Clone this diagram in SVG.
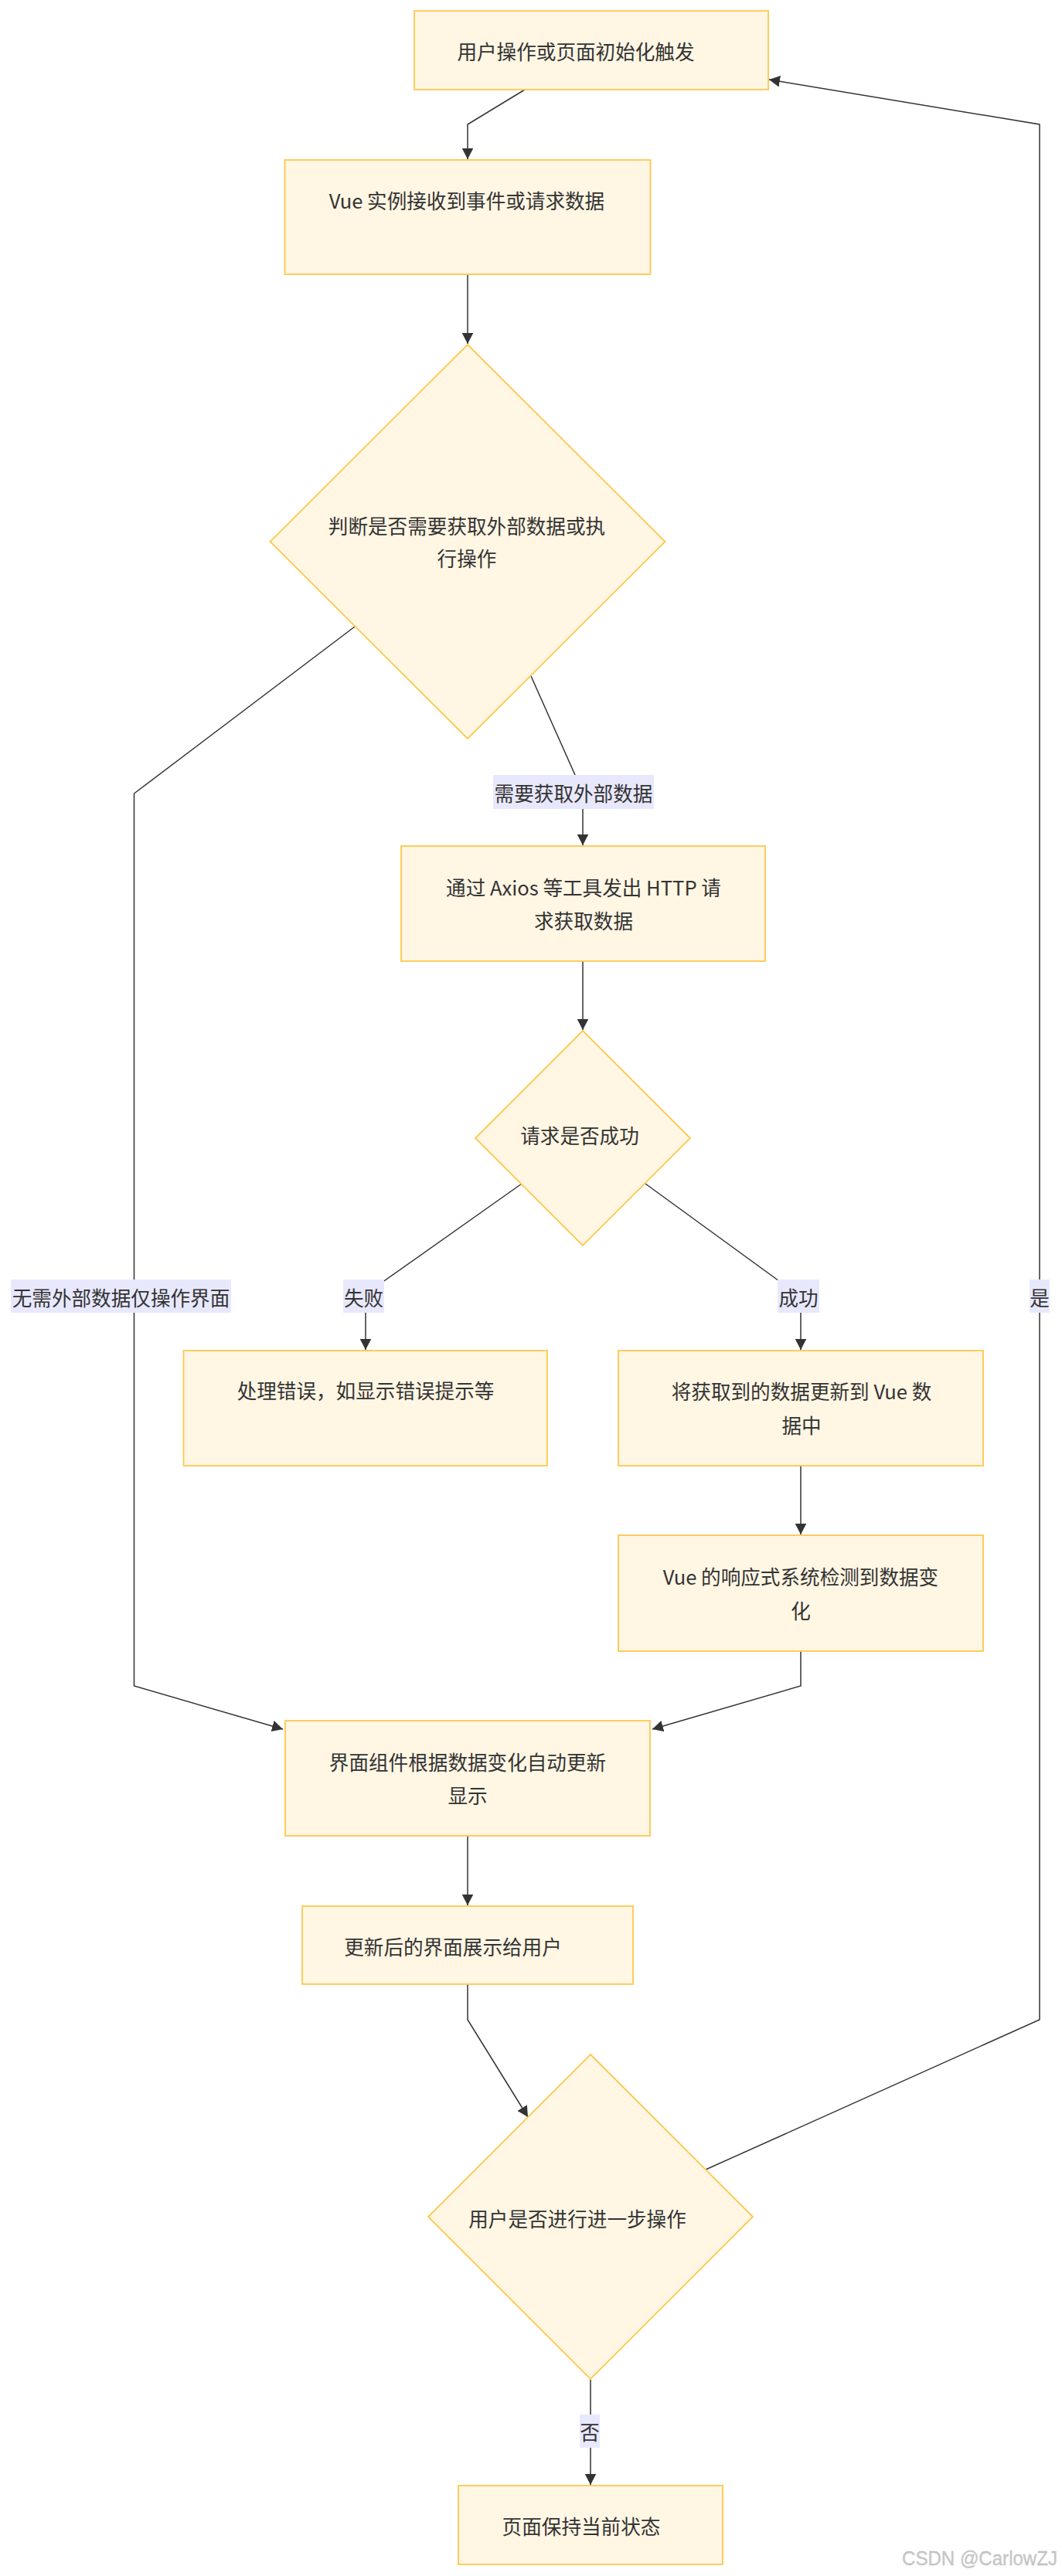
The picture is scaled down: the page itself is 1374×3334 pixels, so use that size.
<svg xmlns="http://www.w3.org/2000/svg" width="1374" height="3334" viewBox="0 0 1374 3334">
<style>
.node{fill:#fff6e3;stroke:#fdc84e;stroke-width:1.8}
.t{font-family:"Noto Sans CJK SC","Noto Sans",sans-serif;font-size:25.6px;fill:#333;text-anchor:middle;dominant-baseline:central}
.edge{fill:none;stroke:#333;stroke-width:1.5}
.lbl{fill:#e8e8fd}
.wm{font-family:"Liberation Sans",sans-serif;font-size:25px;fill:#c9c9c9;stroke:#b4b4b4;stroke-width:0.3}
</style>
<defs>
<marker id="arr" markerUnits="userSpaceOnUse" markerWidth="16" markerHeight="16" refX="14" refY="7.3" orient="auto">
<path d="M0,0 L14,7.3 L0,14.6 z" fill="#333"/>
</marker>
</defs>
<rect width="1374" height="3334" fill="#fff"/>

<g id="connectors">
<path class="edge" d="M679,116 L605,161 L605,206" marker-end="url(#arr)"/>
<path class="edge" d="M605,355 L605,445" marker-end="url(#arr)"/>
<path class="edge" d="M459,811 L173.5,1027 L173.5,2182 L366,2238" marker-end="url(#arr)"/>
<path class="edge" d="M687,875 L744,1003 L754,1030 L754,1094" marker-end="url(#arr)"/>
<path class="edge" d="M754,1244 L754,1333" marker-end="url(#arr)"/>
<path class="edge" d="M675,1532 L494,1660 L473,1690 L473,1747" marker-end="url(#arr)"/>
<path class="edge" d="M835,1532 L1008,1658 L1036,1690 L1036,1747" marker-end="url(#arr)"/>
<path class="edge" d="M1036,1897 L1036,1986" marker-end="url(#arr)"/>
<path class="edge" d="M1036,2137 L1036,2182 L844,2238" marker-end="url(#arr)"/>
<path class="edge" d="M605,2376 L605,2466" marker-end="url(#arr)"/>
<path class="edge" d="M605,2568 L605,2614 L683,2740" marker-end="url(#arr)"/>
<path class="edge" d="M913,2808 L1345,2614 L1345,161 L995,103" marker-end="url(#arr)"/>
<path class="edge" d="M764,3080 L764,3216" marker-end="url(#arr)"/>
</g>

<g id="edge-labels">
<g id="lbl-need"><rect class="lbl" x="638" y="1003" width="208" height="44"/><text class="t" x="742" y="1025">需要获取外部数据</text></g>
<g id="lbl-noneed"><rect class="lbl" x="14" y="1656" width="285" height="43"/><text class="t" x="156.5" y="1678">无需外部数据仅操作界面</text></g>
<g id="lbl-fail"><rect class="lbl" x="444" y="1656" width="53" height="43"/><text class="t" x="470.5" y="1678">失败</text></g>
<g id="lbl-ok"><rect class="lbl" x="1006" y="1656" width="54" height="43"/><text class="t" x="1033" y="1678">成功</text></g>
<g id="lbl-yes"><rect class="lbl" x="1332" y="1656" width="26" height="43"/><text class="t" x="1345" y="1678">是</text></g>
<g id="lbl-no"><rect class="lbl" x="750" y="3125" width="26" height="43"/><text class="t" x="763" y="3146.5">否</text></g>
</g>

<g id="nodeA"><rect class="node" x="536" y="14" width="458" height="102"/><text class="t" x="745" y="65">用户操作或页面初始化触发</text></g>
<g id="nodeB"><rect class="node" x="368.5" y="207" width="473" height="148"/><text class="t" x="604" y="258">Vue 实例接收到事件或请求数据</text></g>
<g id="nodeD1"><polygon class="node" points="605,446 860.5,701 605,956 349.5,701"/><text class="t" x="604" y="679">判断是否需要获取外部数据或执</text><text class="t" x="604" y="721.5">行操作</text></g>
<g id="nodeC"><rect class="node" x="519" y="1095" width="471" height="149"/><text class="t" x="755" y="1147">通过 Axios 等工具发出 HTTP 请</text><text class="t" x="755" y="1190">求获取数据</text></g>
<g id="nodeD2"><polygon class="node" points="754,1334 893,1473 754,1612 615,1473"/><text class="t" x="750" y="1468">请求是否成功</text></g>
<g id="nodeE"><rect class="node" x="237.5" y="1748" width="470.5" height="149"/><text class="t" x="473" y="1798">处理错误，如显示错误提示等</text></g>
<g id="nodeF"><rect class="node" x="800" y="1748" width="472" height="149"/><text class="t" x="1037" y="1799">将获取到的数据更新到 Vue 数</text><text class="t" x="1037" y="1843">据中</text></g>
<g id="nodeG"><rect class="node" x="800" y="1987" width="472" height="150"/><text class="t" x="1036" y="2039">Vue 的响应式系统检测到数据变</text><text class="t" x="1036" y="2083">化</text></g>
<g id="nodeH"><rect class="node" x="369" y="2227" width="472" height="149"/><text class="t" x="605" y="2279">界面组件根据数据变化自动更新</text><text class="t" x="605" y="2322">显示</text></g>
<g id="nodeI"><rect class="node" x="391" y="2467" width="428" height="101"/><text class="t" x="586" y="2518">更新后的界面展示给用户</text></g>
<g id="nodeD3"><polygon class="node" points="764,2659 974,2869 764,3079 554,2869"/><text class="t" x="747" y="2870">用户是否进行进一步操作</text></g>
<g id="nodeJ"><rect class="node" x="593" y="3217" width="342" height="102"/><text class="t" x="752" y="3268">页面保持当前状态</text></g>

<text class="wm" x="1167" y="3320" textLength="201" lengthAdjust="spacingAndGlyphs">CSDN @CarlowZJ</text>
</svg>
